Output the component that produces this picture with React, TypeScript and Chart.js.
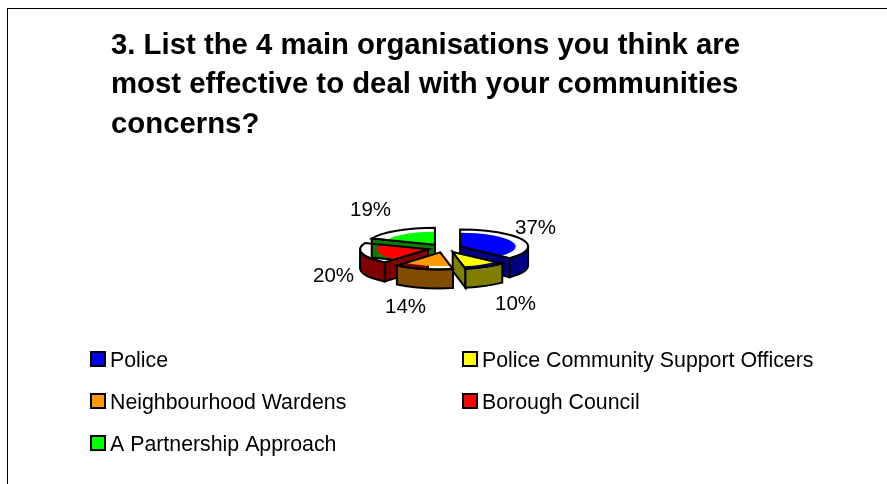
import React, { useEffect, useRef } from "react";
import { Chart, registerables } from "chart.js";

Chart.register(...registerables);

const categories = ["Police", "Police Community Support Officers", "Neighbourhood Wardens", "Borough Council", "A Partnership Approach"];
const shares = [37, 10, 14, 20, 19];
const topColors = ["#0000FF", "#FFFF00", "#FF9900", "#FF0000", "#00FF00"];
const sideColors = ["#000080", "#808000", "#804C00", "#800000", "#008000"];
const titleLines = [
  "3. List the 4 main organisations you think are",
  "most effective to deal with your communities",
  "concerns?",
];

const FONT = "'Liberation Sans', Arial, sans-serif";
const TILT = 0.25;
const DEPTH = 19;
const LABEL_NUDGE = [
  [91, -19.5],
  [71, 56.5],
  [-39, 59.5],
  [-111, 28.5],
  [-74, -38],
];
const LEGEND_SLOTS = [
  [91, 352],
  [463, 352],
  [91, 394],
  [463, 394],
  [91, 436],
];

const pie3d = {
  id: "pie3d",
  beforeDatasetDraw(chart: any, args: any) {
    const ctx = chart.ctx;
    const arcs: any[] = args.meta.data;
    const order = arcs
      .map((_, i) => i)
      .sort((a, b) => {
        const mid = (x: any) => Math.sin((x.startAngle + x.endAngle) / 2);
        return mid(arcs[a]) - mid(arcs[b]);
      });
    ctx.save();
    ctx.lineWidth = 2;
    ctx.lineJoin = "miter";
    ctx.strokeStyle = "#000";
    for (const i of order) {
      const arc = arcs[i];
      const { x, y, startAngle: s, endAngle: e } = arc;
      // ArcElement moves a slice by offset / 4 and grows its radius by the same amount.
      const shift = arc.options.offset / 4;
      const r = arc.outerRadius + shift;
      const h = (s + e) / 2;
      const ax = x + Math.cos(h) * shift;
      const ay = y + Math.sin(h) * shift * TILT;
      const px = (t: number) => ax + Math.cos(t) * r;
      const py = (t: number) => ay + Math.sin(t) * r * TILT;
      ctx.fillStyle = sideColors[i];
      const face = (t: number) => {
        ctx.beginPath();
        ctx.moveTo(ax, ay);
        ctx.lineTo(px(t), py(t));
        ctx.lineTo(px(t), py(t) + DEPTH);
        ctx.lineTo(ax, ay + DEPTH);
        ctx.closePath();
        ctx.fill();
        ctx.stroke();
      };
      if (Math.cos(s) < 0) face(s);
      if (Math.cos(e) > 0) face(e);
      for (const k of [0, 2]) {
        const ws = Math.max(s, k * Math.PI);
        const we = Math.min(e, k * Math.PI + Math.PI);
        if (we > ws) {
          ctx.beginPath();
          ctx.ellipse(ax, ay, r, r * TILT, 0, ws, we);
          ctx.ellipse(ax, ay + DEPTH, r, r * TILT, 0, we, ws, true);
          ctx.closePath();
          ctx.fill();
          ctx.stroke();
        }
      }
      ctx.save();
      ctx.translate(x, y);
      ctx.scale(1, TILT);
      ctx.translate(-x, -y);
      arc.draw(ctx);
      ctx.restore();
      ctx.beginPath();
      ctx.moveTo(ax, ay);
      ctx.ellipse(ax, ay, r, r * TILT, 0, s, e);
      ctx.closePath();
      ctx.stroke();
    }
    ctx.restore();
    return false;
  },
  afterDraw(chart: any) {
    const ctx = chart.ctx;
    const arcs: any[] = chart.getDatasetMeta(0).data;
    const values: number[] = chart.data.datasets[0].data;
    const labels: string[] = chart.data.labels;
    ctx.save();
    ctx.fillStyle = "#000";
    ctx.font = `20.5px ${FONT}`;
    ctx.textAlign = "center";
    ctx.textBaseline = "middle";
    arcs.forEach((arc, i) => {
      ctx.fillText(`${values[i]}%`, arc.x + LABEL_NUDGE[i][0], arc.y + LABEL_NUDGE[i][1]);
    });
    ctx.font = `21.33px ${FONT}`;
    ctx.textAlign = "left";
    ctx.textBaseline = "alphabetic";
    labels.forEach((label, i) => {
      const [lx, ly] = LEGEND_SLOTS[i];
      ctx.fillStyle = topColors[i];
      ctx.strokeStyle = "#000";
      ctx.lineWidth = 2;
      ctx.fillRect(lx, ly, 14, 14);
      ctx.strokeRect(lx, ly, 14, 14);
      ctx.fillStyle = "#000";
      ctx.fillText(label, lx + 19, ly + 15);
    });
    ctx.restore();
  },
};

export default function App() {
  const ref = useRef<HTMLCanvasElement>(null);
  useEffect(() => {
    const chart = new Chart(ref.current as HTMLCanvasElement, {
      type: "pie",
      data: {
        labels: categories,
        datasets: [
          {
            data: shares,
            backgroundColor: topColors,
            borderWidth: 0,
            offset: 68,
          },
        ],
      },
      options: {
        animation: false,
        responsive: false,
        radius: 51,
        rotation: 0,
        layout: { padding: { left: 111, right: 109, top: 26, bottom: 140 } },
        plugins: {
          legend: { display: false },
          tooltip: { enabled: false },
          title: {
            display: true,
            text: titleLines,
            align: "start",
            color: "#000",
            font: { family: FONT, size: 29.33, weight: "bold", lineHeight: 1.347 },
            padding: { top: 0, bottom: 8 },
          },
        },
      } as any,
      plugins: [pie3d],
    });
    return () => chart.destroy();
  }, []);
  return (
    <div style={{ position: "fixed", inset: 0, background: "#fff", overflow: "hidden" }}>
      <canvas ref={ref} width={887} height={484} style={{ position: "absolute", left: 0, top: 0 }} />
      <div style={{ position: "absolute", left: 7, top: 8, right: -5, bottom: -5, borderLeft: "1px solid #000", borderTop: "1px solid #000" }} />
    </div>
  );
}
